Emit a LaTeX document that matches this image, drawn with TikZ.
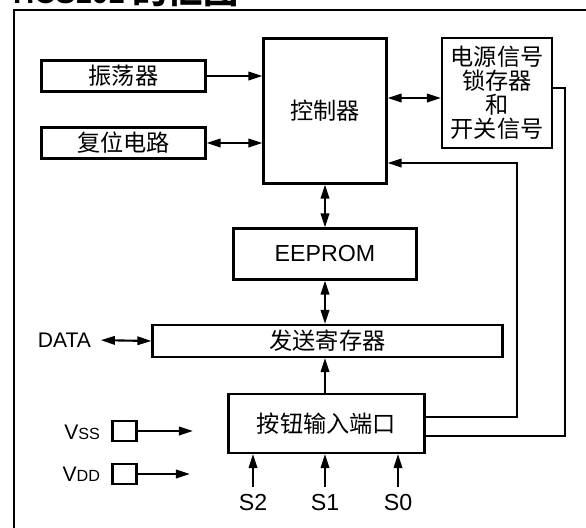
\documentclass[tikz,border=0pt]{standalone}
\usepackage{fontspec}
\setmainfont{Liberation Sans}
\newfontfamily\cjk{Noto Sans CJK SC}
\usetikzlibrary{shapes,arrows,arrows.meta,positioning,calc}

\begin{document}
\begin{tikzpicture}[x=0.25mm, y=-0.25mm, line width=1.5pt,
    >={Triangle[length=10pt,width=6pt]},
    box/.style={draw, inner sep=0pt, align=center, font=\cjk\fontsize{16.5}{17}\selectfont},
    pin/.style={draw, minimum width=6mm, minimum height=5mm, inner sep=0pt},
    lbl/.style={inner sep=0pt, font=\fontsize{15}{17}\selectfont}]

  \useasboundingbox (0,0) rectangle (586,527);

  % Title, cut by the top edge
  \node[anchor=base west, inner sep=0pt, font=\bfseries\fontsize{21}{21}\selectfont] (title) at (12,3) {HCS101 {\cjk\fontsize{25}{25}\selectfont 的框图}};
  \draw (14,10) rectangle (650,580);

  % Blocks
  \node[box, minimum width=41mm, minimum height=7.75mm] (osc) at (123.5,76) {振荡器};
  \node[box, minimum width=41mm, minimum height=7.75mm] (rst) at (123.5,143) {复位电路};
  \node[box, minimum width=30.75mm, minimum height=36.25mm] (ctrl) at (325,111) {控制器};
  \node[box, minimum width=27.5mm, minimum height=27.5mm] (pwr) at (497,93) {电源信号\\锁存器\\和\\开关信号};
  \node[box, font=\fontsize{16.5}{18}\selectfont, minimum width=45.75mm, minimum height=12.75mm] (eep) at (325,254) {EEPROM};
  \node[box, minimum width=87.5mm, minimum height=8mm] (tx) at (327.5,341) {发送寄存器};
  \node[box, minimum width=49mm, minimum height=14.75mm] (keys) at (326.5,423.5) {按钮输入端口};

  % Pins and labels
  \node[pin] (vss) at (124.5,431) {};
  \node[pin] (vdd) at (124.5,474) {};
  \node[lbl, anchor=east] (vssl) at (101,432) {V{\fontsize{11.5}{12}\selectfont SS}};
  \node[lbl, anchor=east] (vddl) at (101,474) {V{\fontsize{11.5}{12}\selectfont DD}};
  \node[lbl, anchor=east] (data) at (92,340) {DATA};
  \node[lbl, font=\fontsize{16.5}{18}\selectfont] (s2) at (253,503) {S2};
  \node[lbl, font=\fontsize{16.5}{18}\selectfont] (s1) at (325,503) {S1};
  \node[lbl, font=\fontsize{16.5}{18}\selectfont] (s0) at (398,503) {S0};
  \coordinate (vssend) at (193,431);
  \coordinate (vddend) at (190,474);
  \coordinate (fb1) at (517,163);
  \coordinate (fb2) at (565,88);
  \coordinate (cp) at ($(pwr.west)+(0,5)$);

  % Connections
  \draw[->] (osc.east) -- (osc.east -| ctrl.west);
  \draw[<->] (rst.east) -- (rst.east -| ctrl.west);
  \draw[<->] (cp -| ctrl.east) -- (cp);
  \draw[<->] (ctrl.south) -- (ctrl.south |- eep.north);
  \draw[<->] (eep.south) -- (eep.south |- tx.north);
  \draw[->] (eep.south |- keys.north) -- (eep.south |- tx.south);
  \draw[<->, shorten <=2.2mm] (data.east) -- (tx.west);
  \draw[->] (vss) -- (vssend);
  \draw[->] (vdd) -- (vddend);
  \draw[->, shorten <=1.8mm] (s2.north) -- (s2.north |- keys.south);
  \draw[->, shorten <=1.8mm] (s1.north) -- (s1.north |- keys.south);
  \draw[->, shorten <=1.8mm] (s0.north) -- (s0.north |- keys.south);
  \draw[->] ($(keys.east)+(0,-6.5)$) -| (fb1) -- (fb1 -| ctrl.east);
  \draw ($(keys.east)+(0,12.5)$) -| (fb2) -- (fb2 -| pwr.east);
\end{tikzpicture}
\end{document}
